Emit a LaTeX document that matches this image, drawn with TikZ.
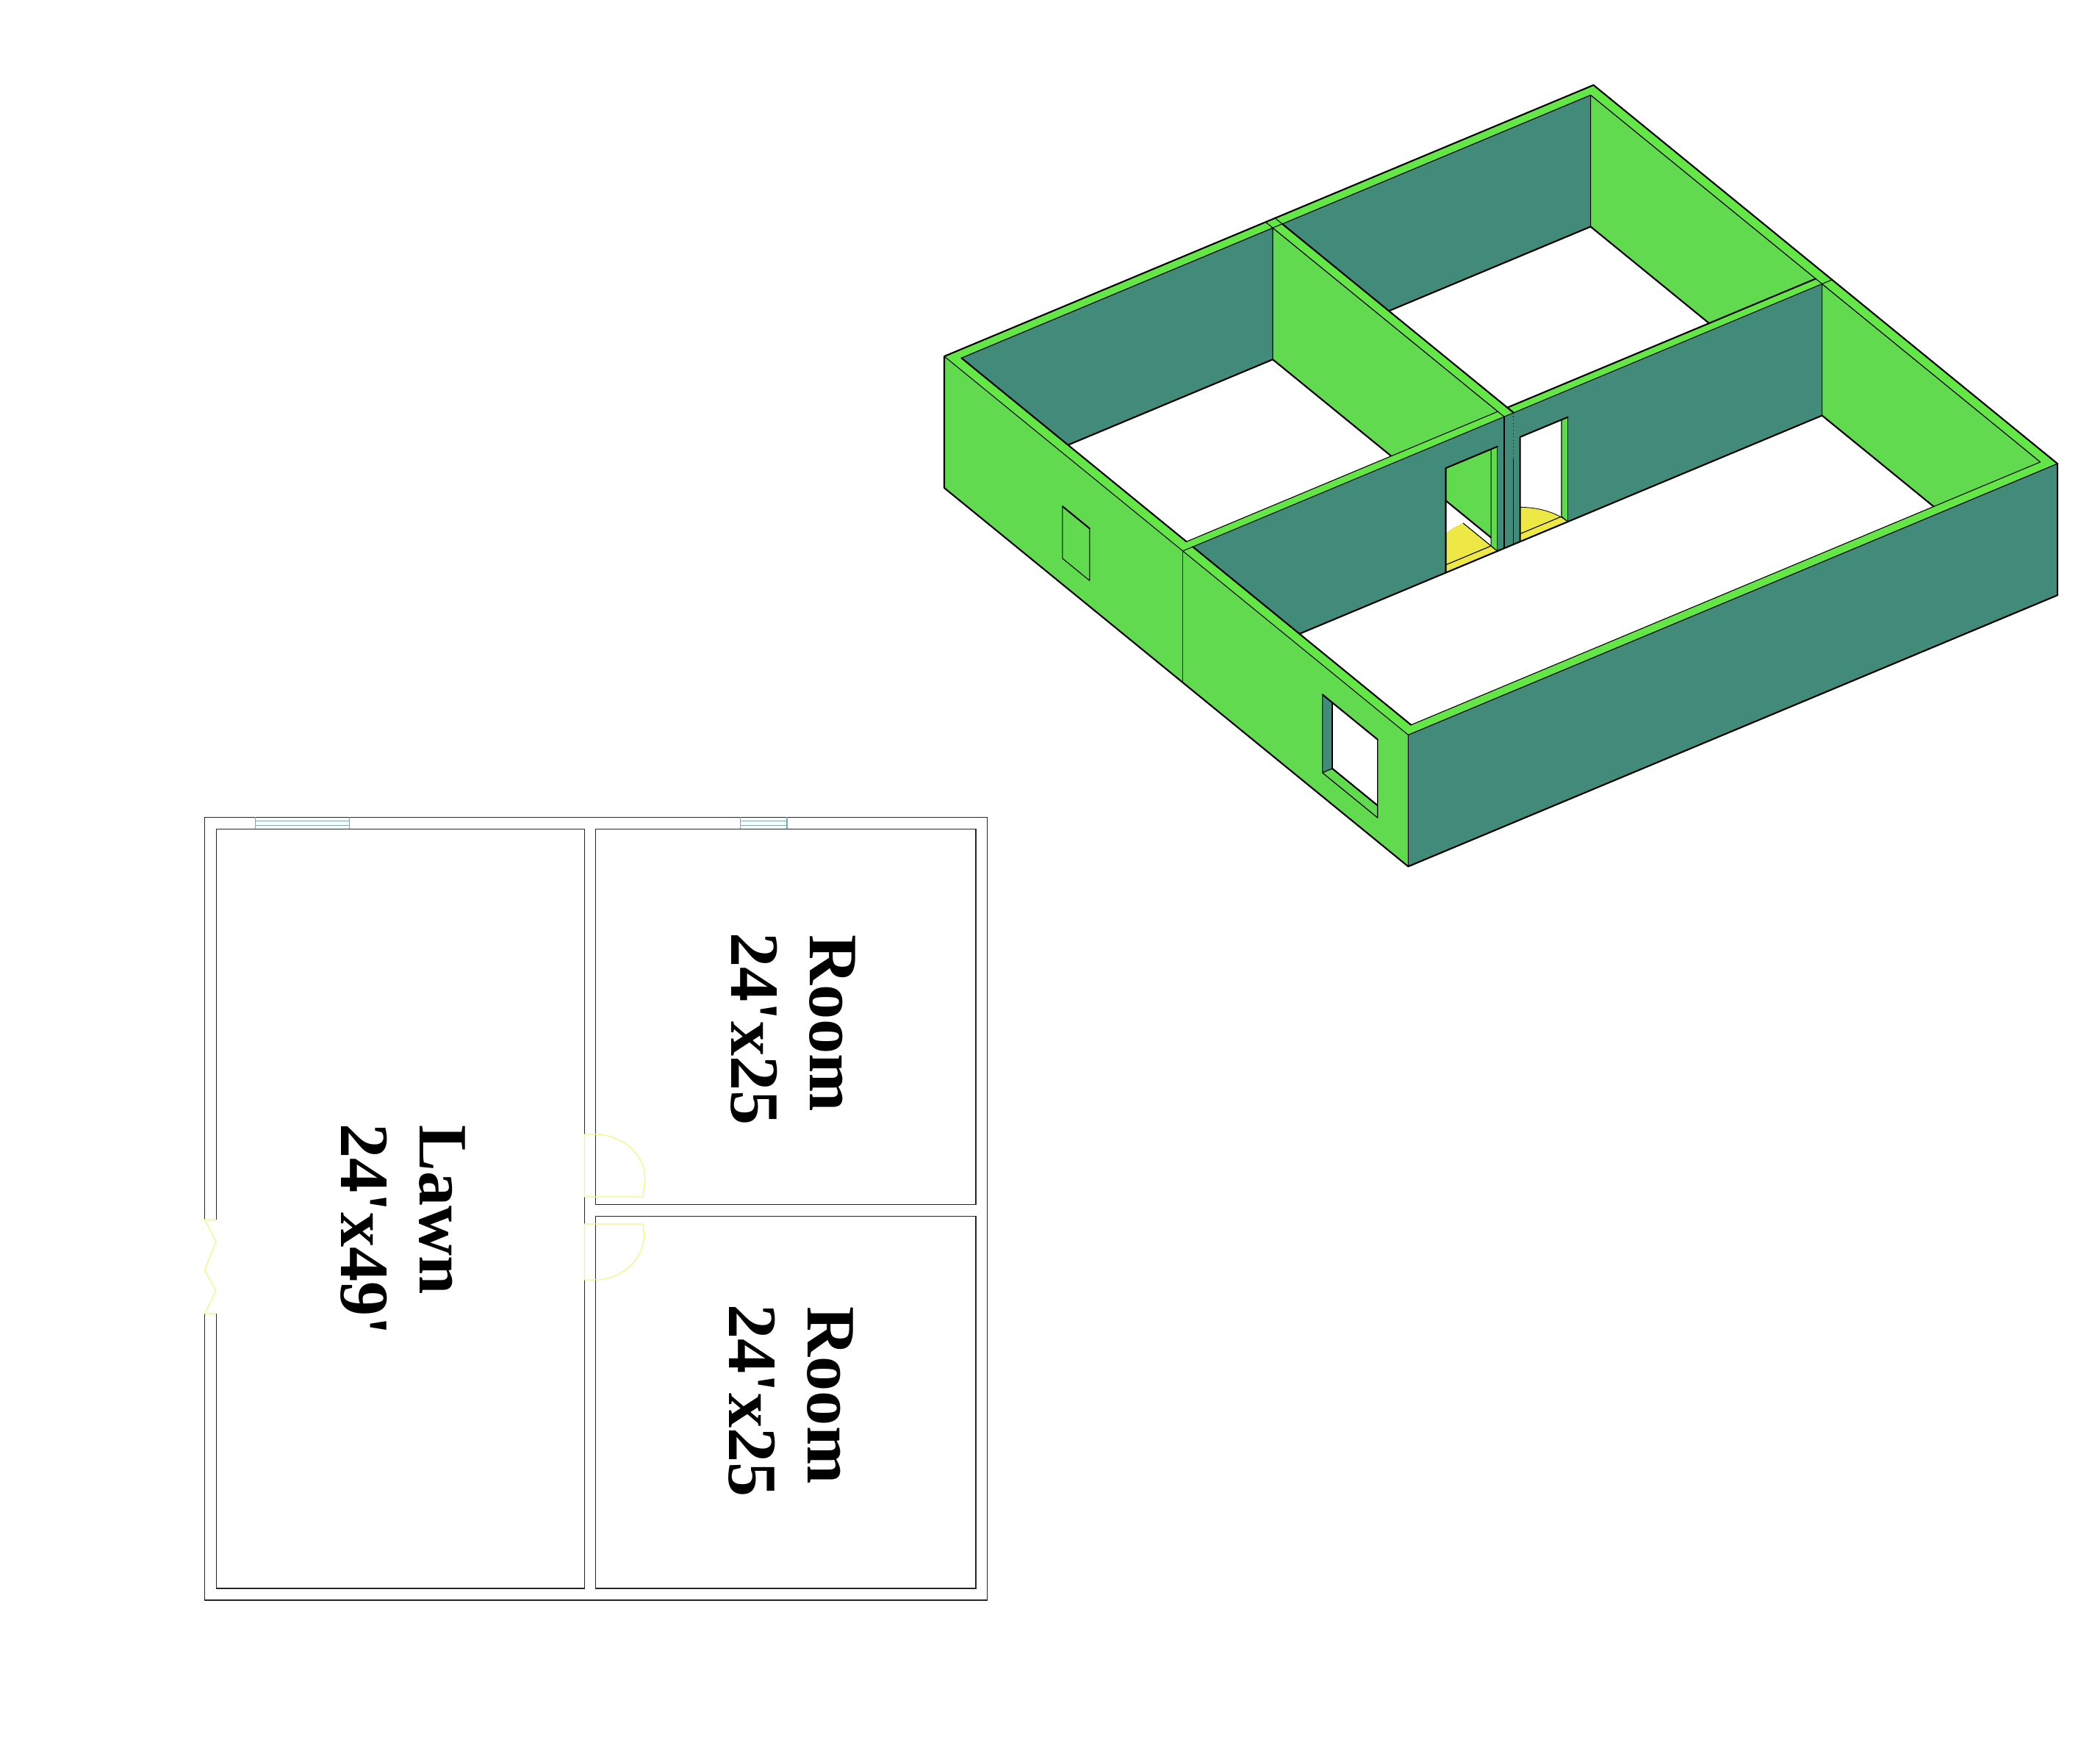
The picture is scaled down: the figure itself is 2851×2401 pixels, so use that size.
\documentclass[tikz,border=0pt]{standalone}
\usepackage{fontspec}
\newfontfamily\labelfont{Liberation Serif}[Ligatures=ResetAll]
\definecolor{facegreen}{HTML}{61DA50}
\definecolor{topgreen}{HTML}{64E646}
\definecolor{teal3d}{HTML}{428A7A}
\definecolor{yellow3d}{HTML}{EEE846}
\definecolor{planyellow}{HTML}{F6F67E}
\definecolor{glassline}{HTML}{6FAFB0}
\definecolor{glassfill}{HTML}{F0FFFF}
\tikzset{
  thinline/.style={line width=0.011cm,draw=black,line join=round},
  heavyline/.style={line width=0.021cm,draw=black,line join=round,line cap=round},
  greenface/.style={fill=facegreen,thinline},
  tealface/.style={fill=teal3d,thinline},
  planline/.style={line width=0.012cm,draw=black!85},
  planyel/.style={line width=0.012cm,draw=planyellow},
  glass/.style={line width=0.013cm,draw=glassline},
  labeltext/.style={rotate=-90,anchor=base west,inner sep=0pt,font=\labelfont\bfseries\fontsize{26.8pt}{30pt}\selectfont}
}
\def\Sa{0.0154}\def\Sb{0.5005}\def\Sc{0.5142}\def\Sd{0.9846}
\def\Ra{0.0154}\def\Rb{0.4950}\def\Rc{0.5096}\def\Rd{0.9846}
\def\Da{0.405}\def\Db{0.4846}\def\Dc{0.5195}\def\Dd{0.593}\def\Dz{0.205}
\begin{document}
\begin{tikzpicture}[x={(0.01cm,0)},y={(0,-0.01cm)}]
\useasboundingbox (0,0) rectangle (2851,2401);
% ---------- isometric view
\begin{scope}[shift={(1285,485)},x={(6.31cm,-5.15cm)},y={(8.83cm,3.69cm)},z={(0cm,-1.79cm)}]
% far room faces: second room first, the cross wall hides its foot
\draw[tealface] (\Sa,\Rc,0)--(\Sa,\Rd,0)--(\Sa,\Rd,1)--(\Sa,\Rc,1)--cycle;
\draw[greenface] (\Sa,\Rd,0)--(\Sb,\Rd,0)--(\Sb,\Rd,1)--(\Sa,\Rd,1)--cycle;
\draw[heavyline] (\Sa,\Rc,1)--(\Sa,\Rd,1)--(\Sb,\Rd,1);
% door swing of the second room, partly behind the cross wall
\fill[yellow3d] (\Sc,\Dc,1)--(0.44,\Dc,1) .. controls (0.44,0.5601,1) and (0.4732,\Dd,1) .. (\Sc,\Dd,1)--cycle;
\draw[thinline,line width=0.008cm] (0.44,\Dc,1) .. controls (0.44,0.5601,1) and (0.4732,\Dd,1) .. (\Sc,\Dd,1);
\draw[thinline] (\Sb,\Dc,1)--(\Sb,\Dd,1);
% first room
\draw[tealface] (\Sa,\Ra,0)--(\Sa,\Rb,0)--(\Sa,\Rb,1)--(\Sa,\Ra,1)--cycle;
\draw[greenface] (\Sa,\Rb,0)--(\Sb,\Rb,0)--(\Sb,\Rb,1)--(\Sa,\Rb,1)--cycle;
\draw[heavyline] (\Sa,\Ra,1)--(\Sa,\Rb,1)--(\Sb,\Rb,1);
\draw[greenface] (\Sc,\Rd,0)--(\Sd,\Rd,0)--(\Sd,\Rd,1)--(\Sc,\Rd,1)--cycle;
% door swing of the first room
\fill[yellow3d] (\Sc,\Db,1)--(0.44,\Db,1) .. controls (0.44,0.4406,1) and (0.4732,\Da,1) .. (\Sc,\Da,1)--cycle;
\draw[thinline] (\Sb,\Da,1)--(\Sb,\Db,1);
\draw[thinline] (0.44,\Db,1)--(\Sc,\Db,1);
% door jambs
\draw[greenface] (\Sb,\Db,\Dz)--(\Sc,\Db,\Dz)--(\Sc,\Db,1)--(\Sb,\Db,1)--cycle;
\draw[greenface] (\Sb,\Dd,\Dz)--(\Sc,\Dd,\Dz)--(\Sc,\Dd,1)--(\Sb,\Dd,1)--cycle;
% interior wall with two door openings
\path[fill=teal3d,even odd rule] (\Sc,\Ra,0)--(\Sc,\Rd,0)--(\Sc,\Rd,1)--(\Sc,\Ra,1)--cycle
  (\Sc,\Da,\Dz)--(\Sc,\Db,\Dz)--(\Sc,\Db,1)--(\Sc,\Da,1)--cycle
  (\Sc,\Dc,\Dz)--(\Sc,\Dd,\Dz)--(\Sc,\Dd,1)--(\Sc,\Dc,1)--cycle;
\draw[heavyline] (\Sc,\Ra,1)--(\Sc,\Rd,1)--(\Sd,\Rd,1);
\draw[thinline] (\Sc,\Rd,0)--(\Sc,\Rd,1);
\draw[heavyline] (\Sc,\Da,1)--(\Sc,\Da,\Dz)--(\Sc,\Db,\Dz);
\draw[thinline] (\Sc,\Db,\Dz)--(\Sc,\Db,1);
\draw[heavyline] (\Sc,\Dc,1)--(\Sc,\Dc,\Dz)--(\Sc,\Dd,\Dz);
\draw[thinline] (\Sc,\Dd,\Dz)--(\Sc,\Dd,1);
\draw[thinline] (\Sc,\Rb,0)--(\Sc,\Rb,1);
\draw[thinline,densely dotted] (\Sc,\Rc,0)--(\Sc,\Rc,0.35);
\draw[thinline] (\Sc,\Rc,0.35)--(\Sc,\Rc,1);
% big window reveals
\draw[tealface] (0.815,0,0.225)--(0.815,\Ra,0.225)--(0.815,\Ra,0.82)--(0.815,0,0.82)--cycle;
\draw[greenface] (0.815,0,0.82)--(0.934,0,0.82)--(0.934,\Ra,0.82)--(0.815,\Ra,0.82)--cycle;
\draw[heavyline] (0.815,\Ra,0.82)--(0.934,\Ra,0.82);
\draw[heavyline] (0.815,\Ra,0.225)--(0.815,\Ra,0.82);
% outer faces
\path[fill=facegreen,even odd rule] (0,0,0)--(1,0,0)--(1,0,1)--(0,0,1)--cycle
  (0.815,0,0.225)--(0.934,0,0.225)--(0.934,0,0.82)--(0.815,0,0.82)--cycle;
\draw[thinline] (0.815,0,0.225)--(0.815,0,0.82)--(0.934,0,0.82)--(0.934,0,0.225);
\draw[heavyline] (0.815,0,0.225)--(0.934,0,0.225);
\draw[thinline] (\Sc,0,0)--(\Sc,0,1);
\draw[thinline] (0.2547,0,0.407)--(0.2547,0,0.803)--(0.3133,0,0.803)--(0.3133,0,0.407);
\draw[heavyline] (0.2547,0,0.407)--(0.3133,0,0.407);
\draw[tealface] (1,0,0)--(1,1,0)--(1,1,1)--(1,0,1)--cycle;
% wall tops
\path[fill=topgreen,even odd rule] (0,0,0)--(1,0,0)--(1,1,0)--(0,1,0)--cycle
  (\Sa,\Ra,0)--(\Sb,\Ra,0)--(\Sb,\Rb,0)--(\Sa,\Rb,0)--cycle
  (\Sa,\Rc,0)--(\Sb,\Rc,0)--(\Sb,\Rd,0)--(\Sa,\Rd,0)--cycle
  (\Sc,\Ra,0)--(\Sd,\Ra,0)--(\Sd,\Rd,0)--(\Sc,\Rd,0)--cycle;
% top lines
\draw[thinline] (0,0,0)--(1,0,0)--(1,1,0);
\draw[thinline] (\Sa,\Ra,0)--(\Sa,\Rb,0)--(\Sc,\Rb,0);
\draw[thinline] (\Sb,\Rb,0)--(\Sb,\Ra,0);
\draw[thinline] (\Sa,\Rb,0)--(\Sa,\Rd,0)--(\Sd,\Rd,0)--(\Sd,\Ra,0);
\draw[thinline] (\Sc,1,0)--(\Sc,\Ra,0)--(\Sc,0,0);
\draw[thinline] (0,\Rb,0)--(\Sa,\Rb,0);
\draw[thinline] (0,\Rc,0)--(\Sa,\Rc,0);
\draw[heavyline] (\Sa,\Ra,0)--(\Sb,\Ra,0);
\draw[heavyline] (\Sc,\Ra,0)--(\Sd,\Ra,0);
\draw[heavyline] (\Sa,\Rc,0)--(\Sc,\Rc,0);
\draw[heavyline] (\Sb,\Rc,0)--(\Sb,\Rd,0);
\draw[heavyline] (0,0,0)--(0,1,0)--(1,1,0)--(1,1,1)--(1,0,1)--(0,0,1)--cycle;
\end{scope}
% ---------- plan
\fill[glassfill] (347.6,1112.5) rectangle (475.6,1128.3);
\fill[glassfill] (1007.7,1112.5) rectangle (1071,1128.3);
\draw[planline] (278.5,1660)--(278.5,1112.5)--(1343.5,1112.5)--(1343.5,2178)--(278.5,2178)--(278.5,1788);
\draw[planline] (294.1,1660)--(294.1,1128.3)--(795.4,1128.3)--(795.4,1544);
\draw[planline] (795.4,1629)--(795.4,1666);
\draw[planline] (795.4,1742)--(795.4,2162)--(294.1,2162)--(294.1,1788);
\draw[planline] (810.5,1128.3) rectangle (1328,1639.3);
\draw[planline] (810.5,1655.3) rectangle (1328,2162);
\foreach \wa/\wb in {347.6/475.6,1007.7/1071}{
  \draw[glass] (\wa,1112.5)--(\wa,1128.3);
  \draw[glass] (\wb,1112.5)--(\wb,1128.3);
  \draw[glass] (\wa,1117.3)--(\wb,1117.3);
  \draw[glass] (\wa,1123.3)--(\wb,1123.3);
}
% doors
\draw[planyel] (294,1660)--(278.5,1660)--(294,1689.3)--(278.5,1728.7)--(294,1756.7)--(278.5,1788)--(294,1788);
\draw[planyel] (875,1629)--(795.4,1629)--(795.4,1544)--(810.5,1544) .. controls (845,1544) and (877.7,1570) .. (877.7,1603)--cycle;
\draw[planyel] (875,1666)--(795.4,1666)--(795.4,1742)--(810.5,1742) .. controls (845,1742) and (876.5,1715) .. (876.5,1680)--cycle;
% labels
\node[labeltext] (lawnA) at (571,1531) {Lawn};
\node[labeltext] (lawnB) at (464,1529) {24'x49'};
\node[labeltext] (roomA) at (1102,1272) {Room};
\node[labeltext] (roomB) at (995,1269) {24'x25};
\node[labeltext] (roomC) at (1099,1778) {Room};
\node[labeltext] (roomD) at (992,1775) {24'x25};
\end{tikzpicture}
\end{document}
